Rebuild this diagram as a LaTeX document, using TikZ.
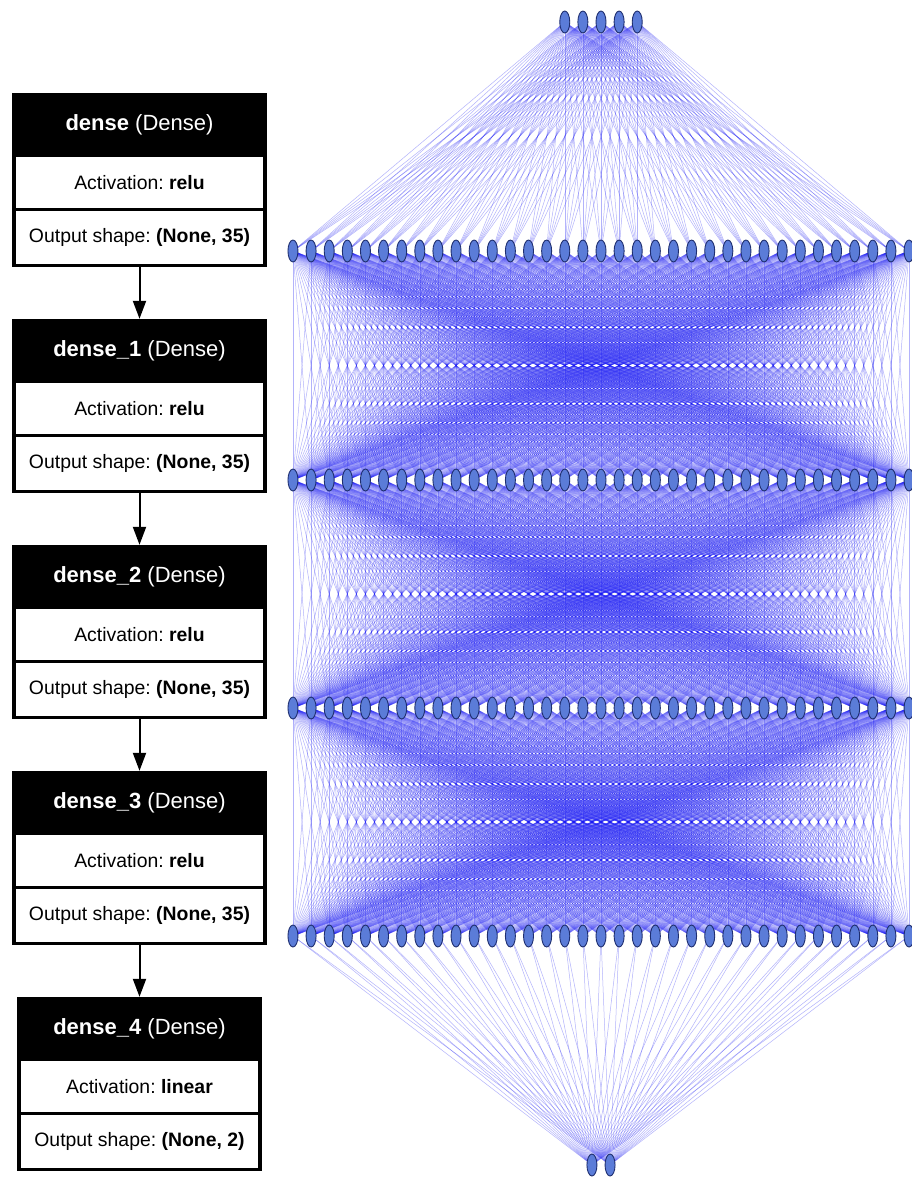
\documentclass[tikz,border=0pt]{standalone}
\usepackage{fontspec}
\setmainfont{Liberation Sans}
\frenchspacing
\usetikzlibrary{arrows.meta,shapes.geometric}
\pgfdeclarelayer{edges}
\pgfsetlayers{edges,main}
\definecolor{neuronfill}{HTML}{5B7CD8}
\definecolor{neuronline}{HTML}{1F2F70}
\definecolor{wire}{HTML}{1A1AF5}

\tikzset{
  neuron/.style={ellipse, draw=neuronline, fill=neuronfill, line width=0.9pt,
    minimum width=10pt, minimum height=22pt, inner sep=0pt},
  wires/.style={draw=wire, line width=0.5pt, draw opacity=0.33},
  layerbox/.style={fill=black, draw=none, inner sep=0pt, minimum height=174pt},
  title/.style={text=white, font=\fontsize{22}{26}\selectfont, inner sep=0pt},
  cell/.style={fill=white, draw=none, inner sep=0pt,
    font=\fontsize{19.4}{23}\selectfont},
  flow/.style={line width=2pt, -{Triangle[width=13pt,length=18pt]}}
}

\begin{document}
\begin{tikzpicture}[x=1pt, y=-1pt]
\useasboundingbox (0,0) rectangle (912,1179);

% ---- model summary column ----
\foreach \k/\y/\ttl/\act/\shp/\w in {
    0/93/dense/relu/35/255,
    1/319/dense\_1/relu/35/255,
    2/545/dense\_2/relu/35/255,
    3/771/dense\_3/relu/35/255,
    4/997/dense\_4/linear/2/245} {
  \pgfmathsetmacro\cw{\w-8}
  \node[layerbox, minimum width=\w pt] (b\k) at (139.5, \y+87) {};
  \node[title] (t\k) at (139.5, \y+32) {\textbf{\ttl} (Dense)};
  \node[cell, minimum width=\cw pt, minimum height=51pt] (a\k) at (139.5, \y+89.5)
    {Activation: \textbf{\act}};
  \node[cell, minimum width=\cw pt, minimum height=53pt] (o\k) at (139.5, \y+144.5)
    {Output shape: \textbf{(None, \shp)}};
}
\foreach \k [evaluate=\k as \m using int(\k+1)] in {0,...,3}
  \draw[flow] (b\k.south) -- (b\m.north);

% ---- network graph: neurons ----
\foreach \l/\n/\y in {0/5/22, 1/35/251, 2/35/480, 3/35/708, 4/35/936, 5/2/1165} {
  \foreach \i in {1,...,\n}
    \node[neuron] (n\l-\i) at ({601+(\i-(\n+1)/2)*18.12}, \y) {};
}

% ---- network graph: fully connected weights ----
\begin{pgfonlayer}{edges}
\fill[white] (0,0) rectangle (912,1179);
\begin{scope}[wires]
\foreach \a/\na/\nb in {0/5/35, 1/35/35, 2/35/35, 3/35/35, 4/35/2} {
  \pgfmathtruncatemacro\b{\a+1}
  \foreach \i in {1,...,\na}
    \foreach \j in {1,...,\nb}
      \draw (n\a-\i.center) -- (n\b-\j.center);
}
\end{scope}
\end{pgfonlayer}
\end{tikzpicture}
\end{document}
